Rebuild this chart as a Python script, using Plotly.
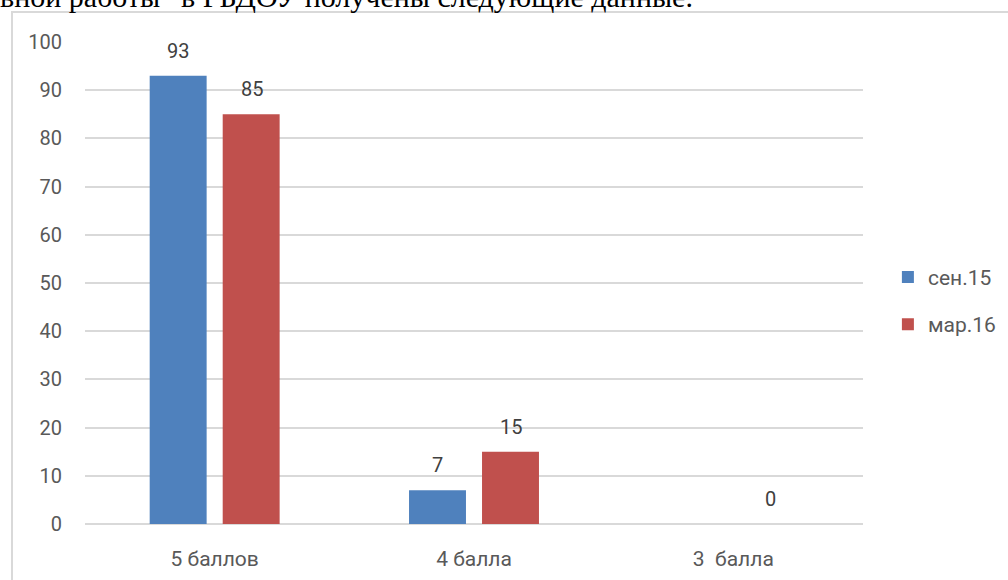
import plotly.graph_objects as go

categories = ["5 баллов", "4 балла", "3  балла"]
series_names = ["сен.15", "мар.16"]
sep15 = [93, 7, None]
mar16 = [85, 15, 0]
y_ticks = [0, 10, 20, 30, 40, 50, 60, 70, 80, 90, 100]
header_text = "вной работы\u201d в РБДОУ получены следующие данные."

colors = ["#4f81bd", "#c0504d"]
W, H = 1008, 580
L, R, T, B = 85, 145, 42, 56
pw, ph = W - L - R, H - T - B

fig = go.Figure()
for name, vals, col in zip(series_names, [sep15, mar16], colors):
    fig.add_trace(go.Bar(x=categories, y=vals, name=name, marker_color=col,
                         marker_line_width=0, legendgroup=name))

# data labels
for vals, shift in zip([sep15, mar16], [-37, 37]):
    for c, v in zip(categories, vals):
        if v is None:
            continue
        fig.add_annotation(x=c, y=v, text=str(v), showarrow=False, xshift=shift,
                           yanchor="bottom", yshift=11,
                           font=dict(family="Roboto", size=20, color="#404040"))

# header text cut off at top
fig.add_annotation(xref="paper", yref="paper", x=(-2 - L) / pw, y=1 + (T - 15) / ph,
                   xanchor="left", yanchor="bottom", text=header_text, showarrow=False,
                   font=dict(family="Liberation Serif", size=30, color="#000000"))

# chart frame
fig.add_shape(type="rect", xref="paper", yref="paper",
              x0=(12 - L) / pw, x1=(W + 20 - L) / pw,
              y0=-(B + 20) / ph, y1=1 + (T - 12) / ph,
              line=dict(color="#d9d9d9", width=2), fillcolor="rgba(0,0,0,0)", layer="below")

fig.update_layout(
    width=W, height=H, margin=dict(l=L, r=R, t=T, b=B, autoexpand=False),
    plot_bgcolor="white", paper_bgcolor="white",
    barmode="group", bargap=0.437, bargroupgap=0.22,
    font=dict(family="Roboto", color="#595959", size=20),
    legend=dict(x=1.032, y=0.463, xanchor="left", yanchor="middle",
                font=dict(size=21, color="#595959"), tracegroupgap=17,
                itemwidth=30),
    xaxis=dict(showgrid=False, showline=False, ticks="", ticklabelstandoff=20,
               automargin=False, tickfont=dict(size=21, color="#595959")),
    yaxis=dict(range=[0, 100], tickvals=y_ticks, showgrid=True, gridcolor="#d9d9d9",
               gridwidth=1.5, zeroline=True, zerolinecolor="#d9d9d9", zerolinewidth=1.5,
               automargin=False, ticks="", ticklabelstandoff=22,
               tickfont=dict(size=20, color="#595959")),
)

fig.write_html("out.html", config={"displayModeBar": False},
               post_script="document.body.style.margin='0';document.body.style.overflow='hidden';")
